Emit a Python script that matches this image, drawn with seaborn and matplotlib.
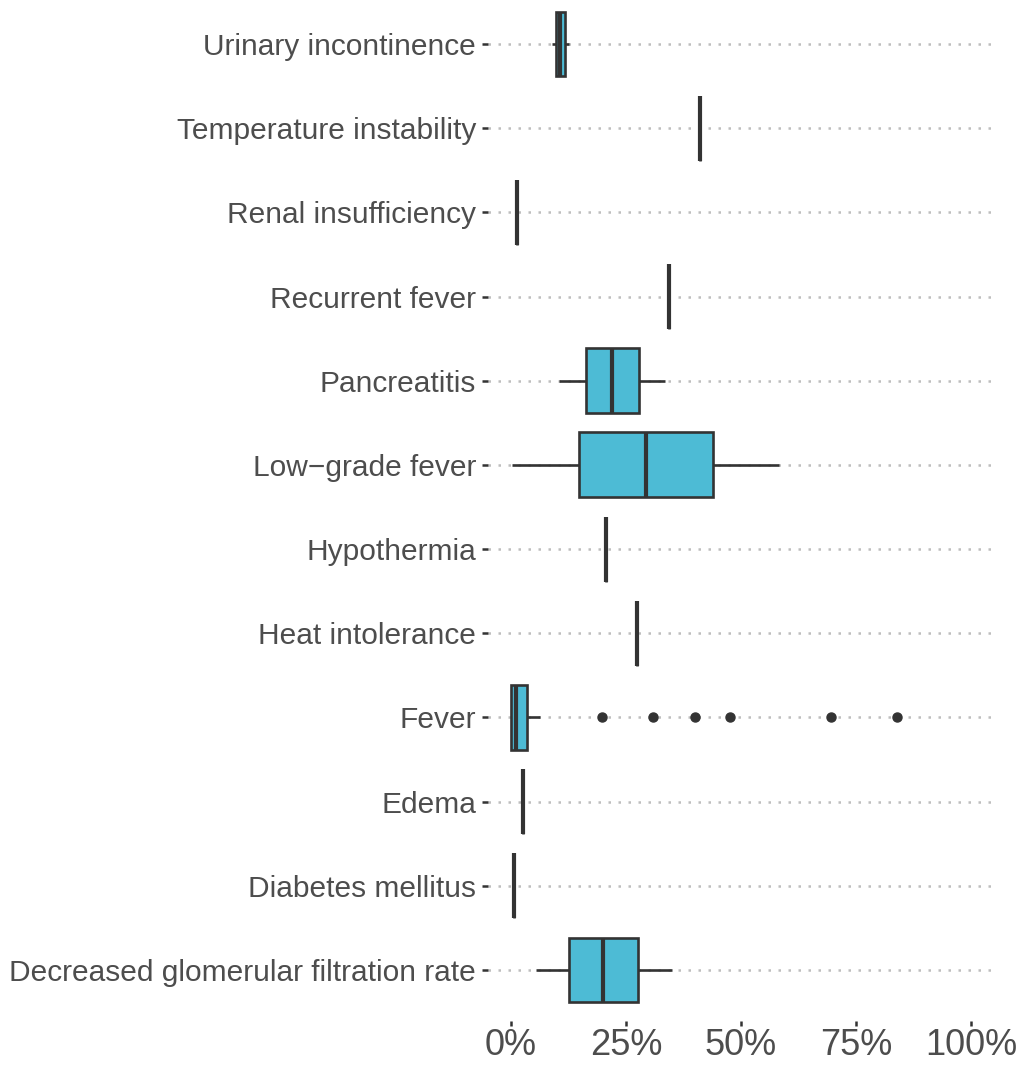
import matplotlib
matplotlib.use("Agg")
import matplotlib.pyplot as plt
import seaborn as sns
import pandas as pd
from matplotlib.ticker import FuncFormatter

# Categories, top to bottom
categories = [
    "Urinary incontinence",
    "Temperature instability",
    "Renal insufficiency",
    "Recurrent fever",
    "Pancreatitis",
    "Low\u2212grade fever",
    "Hypothermia",
    "Heat intolerance",
    "Fever",
    "Edema",
    "Diabetes mellitus",
    "Decreased glomerular filtration rate",
]

urinary_incontinence = [8.9, 9.8, 10.7, 11.7, 12.6]
temperature_instability = [41.0]
renal_insufficiency = [1.35]
recurrent_fever = [34.3]
pancreatitis = [10.5, 16.2, 21.9, 27.8, 33.5]
low_grade_fever = [0.2, 14.7, 29.3, 43.9, 58.2]
hypothermia = [20.7]
heat_intolerance = [27.3]
fever = [0, 0, 0, 0, 0, 0, 0, 0, 0.2, 0.3, 0.5, 0.6, 0.8, 0.9, 1.0,
         1.3, 1.6, 1.9, 2.2, 2.6, 3.0, 3.4, 6.4,
         19.8, 30.9, 40.1, 47.7, 69.5, 84.0]
edema = [2.6]
diabetes_mellitus = [0.6]
decreased_gfr = [5.5, 12.6, 20.1, 27.7, 35.0]

series = [urinary_incontinence, temperature_instability, renal_insufficiency,
          recurrent_fever, pancreatitis, low_grade_fever, hypothermia,
          heat_intolerance, fever, edema, diabetes_mellitus, decreased_gfr]

rows = []
for cat, vals in zip(categories, series):
    for v in vals:
        rows.append({"symptom": cat, "pct": v / 100.0})
df = pd.DataFrame(rows)

sns.set_style("white")
plt.rcParams["font.family"] = ["Liberation Sans", "DejaVu Sans"]

W, H = 1024, 1065
fig = plt.figure(figsize=(W / 100, H / 100), dpi=100)
# y: category 0 at 44 px, category 11 at 970 px, discrete expansion 0.6
unit = (970 - 44) / 11
top_px = 44 - 0.6 * unit
bot_px = 970 + 0.6 * unit
left_px, right_px = 488, 994
ax = fig.add_axes([left_px / W, 1 - bot_px / H,
                   (right_px - left_px) / W, (bot_px - top_px) / H])

edge = "#333333"
sns.boxplot(data=df, x="pct", y="symptom", order=categories, ax=ax,
            color="#4DBBD5", saturation=1, width=0.77, whis=1.5,
            linecolor=edge, linewidth=1.9, showcaps=False,
            medianprops={"linewidth": 3.0, "color": edge},
            flierprops={"marker": "o", "markersize": 6.5,
                        "markerfacecolor": edge, "markeredgecolor": edge})

ax.set_xlim(-0.05, 1.05)
ax.set_ylim(len(categories) - 1 + 0.6, -0.6)
ax.set_xticks([0, 0.25, 0.5, 0.75, 1.0])
ax.xaxis.set_major_formatter(FuncFormatter(lambda v, p: f"{v*100:.0f}%"))
ax.set_xlabel("")
ax.set_ylabel("")

ax.grid(False)
for i in range(len(categories)):
    ax.axhline(i, color="#BEBEBE", linewidth=1.8, linestyle=(0, (1, 3)),
               zorder=0)

for s in ax.spines.values():
    s.set_visible(False)

ax.tick_params(axis="y", labelsize=21.5, labelcolor="#4D4D4D", color=edge,
               length=4.5, width=1.8, pad=4, left=True)
ax.tick_params(axis="x", labelsize=26, labelcolor="#4D4D4D", color=edge,
               length=3.6, width=1.8, pad=2, bottom=True)

fig.savefig("out.png", dpi=100)
